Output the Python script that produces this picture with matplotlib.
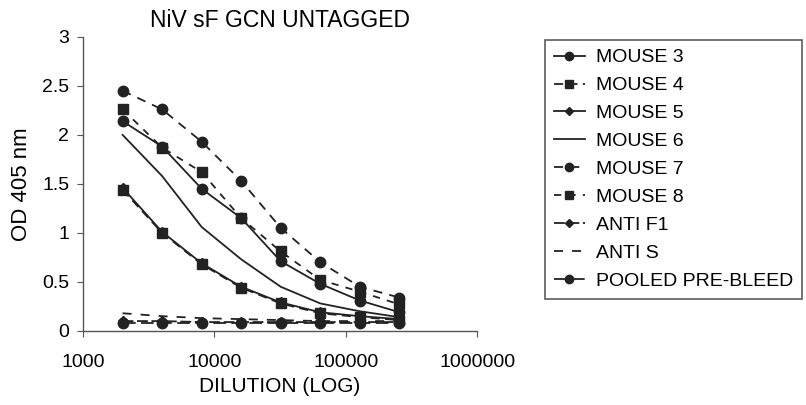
import matplotlib
matplotlib.use("Agg")
import matplotlib.pyplot as plt

plt.rcParams['font.family'] = ['Liberation Sans', 'DejaVu Sans']

dilution = [2000, 4000, 8000, 16000, 32000, 64000, 128000, 256000]
mouse3 = [2.14, 1.88, 1.45, 1.15, 0.71, 0.48, 0.31, 0.19]
mouse4 = [1.44, 1.00, 0.68, 0.44, 0.28, 0.18, 0.14, 0.11]
mouse5 = [1.46, 1.01, 0.69, 0.45, 0.29, 0.19, 0.15, 0.12]
mouse6 = [2.00, 1.58, 1.06, 0.73, 0.45, 0.28, 0.20, 0.14]
mouse7 = [2.45, 2.26, 1.93, 1.53, 1.05, 0.70, 0.45, 0.34]
mouse8 = [2.26, 1.87, 1.62, 1.15, 0.81, 0.52, 0.40, 0.27]
anti_f1 = [0.10, 0.10, 0.09, 0.09, 0.09, 0.09, 0.09, 0.09]
anti_s = [0.18, 0.15, 0.13, 0.12, 0.11, 0.10, 0.10, 0.10]
pooled = [0.08, 0.08, 0.08, 0.08, 0.08, 0.08, 0.08, 0.08]

series = [
    ("MOUSE 3", mouse3, dict(linestyle='-', marker='o')),
    ("MOUSE 4", mouse4, dict(linestyle=(0, (5, 3)), marker='s')),
    ("MOUSE 5", mouse5, dict(linestyle='-', marker='D', markersize=5)),
    ("MOUSE 6", mouse6, dict(linestyle='-', marker=None)),
    ("MOUSE 7", mouse7, dict(linestyle=(0, (5, 4)), marker='o')),
    ("MOUSE 8", mouse8, dict(linestyle=(0, (4, 4)), marker='s')),
    ("ANTI F1", anti_f1, dict(linestyle=(0, (6, 2)), marker='D', markersize=5)),
    ("ANTI S", anti_s, dict(linestyle=(0, (5, 5)), marker=None)),
    ("POOLED PRE-BLEED", pooled, dict(linestyle=(0, (7, 3)), marker='o')),
]

fig = plt.figure(figsize=(8.06, 4.05), dpi=100)
ax = fig.add_axes([0.103, 0.183, 0.489, 0.726])

for name, vals, st in series:
    kw = dict(color='#222222', linewidth=1.3, markersize=7.5)
    kw.update(st)
    ax.plot(dilution, vals, label=name, **kw)

ax.set_xscale('log')
ax.set_xlim(1000, 1000000)
ax.set_ylim(0, 3)
ax.set_xticks([1000, 10000, 100000, 1000000])
ax.set_xticklabels(['1000', '10000', '100000', '1000000'])
ax.xaxis.set_minor_locator(matplotlib.ticker.NullLocator())
ax.set_yticks([0, 0.5, 1, 1.5, 2, 2.5, 3])
ax.set_yticklabels(['0', '0.5', '1', '1.5', '2', '2.5', '3'])
for s in ['top', 'right']:
    ax.spines[s].set_visible(False)
for s in ['left', 'bottom']:
    ax.spines[s].set_color('#555555')
    ax.spines[s].set_linewidth(1.0)
ax.tick_params(axis='both', labelsize=14, length=4, color='#555555')
ax.tick_params(axis='x', pad=13)
ax.tick_params(axis='y', pad=6)

ax.set_title('NiV sF GCN UNTAGGED', fontsize=16.5, pad=7)
ax.set_xlabel('DILUTION (LOG)', fontsize=15, labelpad=4)
ax.set_ylabel('OD 405 nm', fontsize=16, labelpad=7)

leg = fig.legend(loc='upper left', bbox_to_anchor=(0.676, 0.901), fontsize=14,
                 frameon=True, fancybox=False, edgecolor='#333333',
                 handlelength=1.6, handletextpad=0.6, labelspacing=0.53,
                 borderpad=0.45, borderaxespad=0, markerscale=0.8)
leg.get_frame().set_linewidth(1.2)

fig.savefig('out.png', dpi=100)
